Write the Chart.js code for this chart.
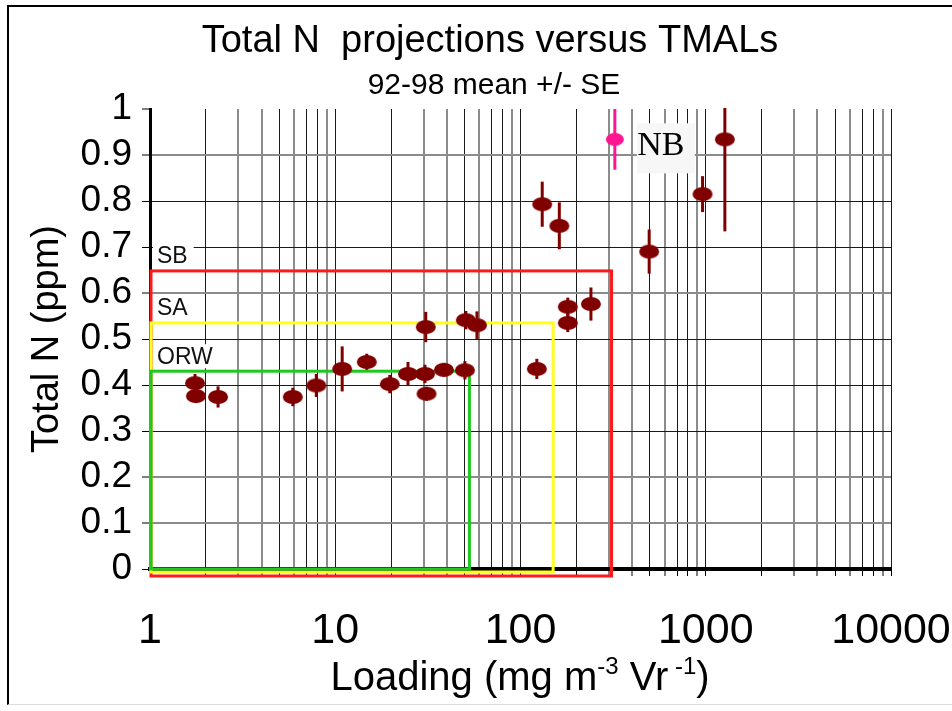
<!DOCTYPE html>
<html>
<head>
<meta charset="utf-8">
<title>Total N projections versus TMALs</title>
<script src="https://cdn.jsdelivr.net/npm/chart.js@4.4.1/dist/chart.umd.min.js"></script>
<style>
  html, body { margin: 0; padding: 0; background: #fff; overflow: hidden; }
  #frame { position: absolute; left: 7px; top: 5px; width: 960px; height: 697px;
           border-left: 2px solid #000; border-top: 2px solid #000; border-bottom: 1px solid #ddd; }
  #wrap { position: absolute; left: 0; top: 0; width: 952px; height: 711px; }
</style>
</head>
<body>
<div id="frame"></div>
<div id="wrap"><canvas id="chart" width="952" height="711"></canvas></div>
<script>
// ---------------------------
// Data
// ---------------------------
const loading  = [1.75, 1.77, 2.33, 5.9, 7.9, 10.9, 14.8, 19.7, 24.7, 30.5, 31.1, 38.6, 50.1,
                  30.8, 50.7, 58.2, 122.5, 180, 180, 240, 131, 162, 495, 961, 1268];
const totalN   = [0.404, 0.376, 0.374, 0.374, 0.399, 0.435, 0.450, 0.402, 0.424, 0.424, 0.381, 0.433, 0.432,
                  0.526, 0.541, 0.530, 0.435, 0.570, 0.535, 0.576, 0.793, 0.746, 0.690, 0.815, 0.934];
const totalNSE = [0.02, 0.015, 0.023, 0.02, 0.025, 0.049, 0.018, 0.02, 0.026, 0.02, 0.015, 0.015, 0.02,
                  0.033, 0.02, 0.03, 0.022, 0.02, 0.02, 0.036, 0.049, 0.051, 0.048, 0.039, 0.2];

// NB station (highlighted)
const nbLoading = [323];
const nbTotalN  = [0.934];
const nbSE      = [0.066];

// target boxes (TMAL limits)
const targetNames   = ['SB', 'SA', 'ORW'];
const targetLoading = [310, 150, 53];
const targetN       = [0.648, 0.535, 0.430];
const targetColors  = ['#ff1a1a', '#ffff1a', '#1ec81e'];

const xTickLabels = [1, 10, 100, 1000, 10000];
const yTickValues = [0, 0.1, 0.2, 0.3, 0.4, 0.5, 0.6, 0.7, 0.8, 0.9, 1];

const SANS = '"Liberation Sans", Arial, sans-serif';
const SERIF = '"Liberation Serif", "Times New Roman", serif';

// every log gridline 1,2,...9,10,20,...10000
const xGridValues = [];
xTickLabels.forEach((d, i) => {
  if (i === xTickLabels.length - 1) { xGridValues.push(d); return; }
  for (let s = 1; s <= 9; s++) xGridValues.push(s * d);
});

// ---------------------------
// Helpers
// ---------------------------
function ellipseMarker(color, rx, ry) {
  const c = document.createElement('canvas');
  c.width = rx * 2 + 2;
  c.height = ry * 2 + 2;
  const g = c.getContext('2d');
  g.fillStyle = color;
  g.beginPath();
  g.ellipse(c.width / 2, c.height / 2, rx, ry, 0, 0, Math.PI * 2);
  g.fill();
  return c;
}

function significand(v) {
  return Math.round(v / Math.pow(10, Math.floor(Math.log10(v) + 1e-9)));
}
const darkX = [1, 2, 5, 7, 8];
const darkY = [0.8, 0.7, 0.5, 0.4, 0.3, 0];

// ---------------------------
// Plugins
// ---------------------------
const errorBars = {
  id: 'errorBars',
  beforeDatasetsDraw(chart) {
    const { ctx, chartArea, scales: { x, y } } = chart;
    ctx.save();
    ctx.beginPath();
    ctx.rect(chartArea.left - 20, chartArea.top - 1, chartArea.width + 40, chartArea.height + 10);
    ctx.clip();
    chart.data.datasets.forEach(ds => {
      ctx.strokeStyle = ds.barColor;
      ctx.lineWidth = 3;
      ds.data.forEach((p, i) => {
        const px = x.getPixelForValue(p.x);
        ctx.beginPath();
        ctx.moveTo(px, y.getPixelForValue(p.y - ds.se[i]));
        ctx.lineTo(px, y.getPixelForValue(p.y + ds.se[i]));
        ctx.stroke();
      });
    });
    ctx.restore();
  }
};

const targetBoxes = {
  id: 'targetBoxes',
  beforeDatasetsDraw(chart) {
    const { ctx, scales: { x, y } } = chart;
    const left = x.getPixelForValue(1);
    const bottomOffsets = [7, 3, 0];
    ctx.save();
    ctx.font = '23px ' + SANS;
    ctx.textBaseline = 'middle';
    ctx.textAlign = 'left';

    // label backgrounds first
    targetNames.forEach((name, i) => {
      const top = y.getPixelForValue(targetN[i]);
      const w = ctx.measureText(name).width;
      ctx.fillStyle = '#fff';
      ctx.fillRect(left + 3, top - 27, w + 10, 24);
    });

    // box outlines, outer first
    targetNames.forEach((name, i) => {
      const top = y.getPixelForValue(targetN[i]);
      const right = x.getPixelForValue(targetLoading[i]);
      const bottom = y.getPixelForValue(0) + bottomOffsets[i];
      ctx.strokeStyle = targetColors[i];
      ctx.lineWidth = 3;
      ctx.strokeRect(left + 1, top, right - left - 1, bottom - top);
    });

    ctx.fillStyle = '#111';
    targetNames.forEach((name, i) => {
      const top = y.getPixelForValue(targetN[i]);
      ctx.fillText(name, left + 7, top - 14);
    });

    // NB label
    const nx = x.getPixelForValue(nbLoading[0]);
    const ny = y.getPixelForValue(nbTotalN[0]);
    ctx.fillStyle = '#f7f7f7';
    ctx.fillRect(nx + 22, ny - 16, 58, 50);
    ctx.fillStyle = '#000';
    ctx.font = '34px ' + SERIF;
    ctx.textAlign = 'center';
    ctx.fillText('NB', nx + 46, ny + 7);
    ctx.restore();
  }
};

const chartText = {
  id: 'chartText',
  afterDraw(chart) {
    const { ctx } = chart;
    ctx.save();
    ctx.fillStyle = '#000';
    ctx.textAlign = 'center';
    ctx.textBaseline = 'middle';
    ctx.font = '38px ' + SANS;
    ctx.fillText('Total N  projections versus TMALs', 490, 42);
    ctx.font = '30px ' + SANS;
    ctx.fillText('92-98 mean +/- SE', 494, 86);

    // x axis title with superscripts
    const parts = [['Loading (mg m', false], ['-3', true], [' Vr', false], [' -1', true], [')', false]];
    const big = '40px ' + SANS, small = '24px ' + SANS;
    let total = 0;
    parts.forEach(p => { ctx.font = p[1] ? small : big; total += ctx.measureText(p[0]).width; });
    let cx = 520 - total / 2;
    const base = 690;
    ctx.textAlign = 'left';
    ctx.textBaseline = 'alphabetic';
    parts.forEach(p => {
      ctx.font = p[1] ? small : big;
      ctx.fillText(p[0], cx, p[1] ? base - 16 : base);
      cx += ctx.measureText(p[0]).width;
    });
    ctx.restore();
  }
};

// ---------------------------
// Chart
// ---------------------------
const ctx = document.getElementById('chart').getContext('2d');
new Chart(ctx, {
  type: 'scatter',
  data: {
    datasets: [
      {
        label: 'Stations',
        data: loading.map((v, i) => ({ x: v, y: totalN[i] })),
        se: totalNSE,
        barColor: '#800000',
        pointStyle: ellipseMarker('#800000', 10, 7),
        pointRadius: 10
      },
      {
        label: 'NB',
        data: nbLoading.map((v, i) => ({ x: v, y: nbTotalN[i] })),
        se: nbSE,
        barColor: '#ff1493',
        pointStyle: ellipseMarker('#ff1493', 9, 6.5),
        pointRadius: 10
      }
    ]
  },
  options: {
    responsive: false,
    animation: false,
    events: [],
    layout: { padding: { top: 109, right: 61, bottom: 0, left: 0 } },
    plugins: {
      legend: { display: false },
      tooltip: { enabled: false },
      title: { display: false }
    },
    scales: {
      x: {
        type: 'logarithmic',
        min: 1,
        max: 10000,
        afterBuildTicks: s => { s.ticks = xGridValues.map(v => ({ value: v })); },
        afterFit: s => { s.height = 142; s.paddingLeft = 0; s.paddingRight = 0; },
        ticks: {
          autoSkip: false,
          maxRotation: 0,
          minRotation: 0,
          padding: 29,
          color: '#000',
          font: { family: SANS, size: 43 },
          callback: v => (xTickLabels.includes(v) ? String(v) : '')
        },
        grid: {
          color: c => (darkX.includes(significand(c.tick.value)) ? '#1a1a1a' : '#8c8c8c'),
          lineWidth: c => (darkX.includes(significand(c.tick.value)) ? 1 : 2),
          tickLength: 7,
          tickColor: '#000',
          tickWidth: 1
        },
        border: { display: true, color: '#000', width: 4 }
      },
      y: {
        min: 0,
        max: 1,
        afterBuildTicks: s => { s.ticks = yTickValues.map(v => ({ value: v })); },
        afterFit: s => { s.width = 150; },
        ticks: {
          autoSkip: false,
          padding: 10,
          color: '#000',
          font: { family: SANS, size: 37 },
          callback: v => String(Math.round(v * 10) / 10)
        },
        grid: {
          color: c => {
            const v = Math.round(c.tick.value * 10) / 10;
            if (v >= 1) return 'rgba(0,0,0,0)';
            return darkY.includes(v) ? '#1a1a1a' : '#8c8c8c';
          },
          lineWidth: c => (darkY.includes(Math.round(c.tick.value * 10) / 10) ? 1 : 2),
          tickLength: 8,
          tickColor: '#000',
          tickWidth: 1
        },
        border: { display: true, color: '#000', width: 3 },
        title: {
          display: true,
          text: 'Total N (ppm)',
          color: '#000',
          font: { family: SANS, size: 38 },
          padding: { top: 25, bottom: 0 }
        }
      }
    }
  },
  plugins: [errorBars, targetBoxes, chartText]
});
</script>
</body>
</html>
